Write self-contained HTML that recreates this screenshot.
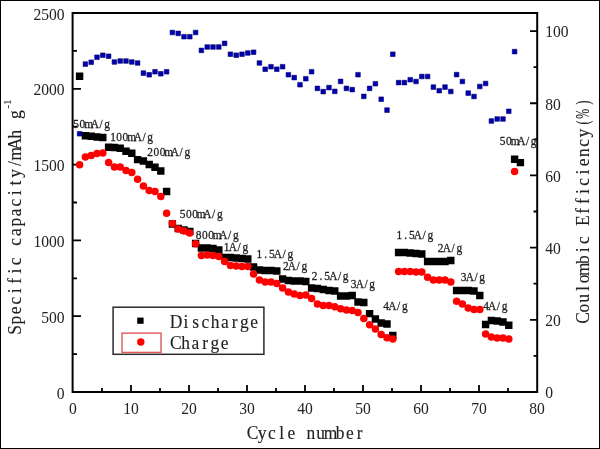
<!DOCTYPE html><html><head><meta charset="utf-8"><style>
html,body{margin:0;padding:0;background:#fff;}
svg{display:block;}
.h{font-family:"Liberation Serif","DejaVu Serif",serif;fill:#222;stroke:#222;stroke-width:0.12px;}
.lb .h{stroke-width:0.28px;}
.n{font-family:"Liberation Serif","DejaVu Serif",serif;fill:#222;}
</style></head><body>
<svg width="600" height="449" viewBox="0 0 600 449">
<rect x="0" y="0" width="600" height="449" fill="#fff"/>
<rect x="0.5" y="0.5" width="599" height="448" fill="none" stroke="#000" stroke-width="1"/>
<path d="M102 392V388M131 392V385M160 392V388M189 392V385M218 392V388M247 392V385M276 392V388M305 392V385M334 392V388M363 392V385M392 392V388M421 392V385M450 392V388M479 392V385M508 392V388M73 354.1H77M73 316.2H81M73 278.3H77M73 240.4H81M73 202.5H77M73 164.6H81M73 126.7H77M73 88.8H81M73 50.9H77M537 355.9H533.5M537 319.81H530M537 283.71H533.5M537 247.62H530M537 211.52H533.5M537 175.43H530M537 139.33H533.5M537 103.24H530M537 67.14H533.5M537 31.05H530" stroke="#000" stroke-width="1.8" fill="none"/>
<rect x="72.6" y="13" width="464.6" height="379" fill="none" stroke="#000" stroke-width="2"/>
<g>
<text class="n" transform="translate(64.6 398.6) scale(1 1.13)" text-anchor="end" font-size="15.6">0</text>
<text class="n" transform="translate(64.6 322.8) scale(1 1.13)" text-anchor="end" font-size="15.6">500</text>
<text class="n" transform="translate(64.6 247) scale(1 1.13)" text-anchor="end" font-size="15.6">1000</text>
<text class="n" transform="translate(64.6 171.2) scale(1 1.13)" text-anchor="end" font-size="15.6">1500</text>
<text class="n" transform="translate(64.6 95.4) scale(1 1.13)" text-anchor="end" font-size="15.6">2000</text>
<text class="n" transform="translate(64.6 19.6) scale(1 1.13)" text-anchor="end" font-size="15.6">2500</text>
<text class="n" transform="translate(545.2 398.4) scale(1 1.13)" text-anchor="start" font-size="15.6">0</text>
<text class="n" transform="translate(545.2 326.21) scale(1 1.13)" text-anchor="start" font-size="15.6">20</text>
<text class="n" transform="translate(545.2 254.02) scale(1 1.13)" text-anchor="start" font-size="15.6">40</text>
<text class="n" transform="translate(545.2 181.83) scale(1 1.13)" text-anchor="start" font-size="15.6">60</text>
<text class="n" transform="translate(545.2 109.64) scale(1 1.13)" text-anchor="start" font-size="15.6">80</text>
<text class="n" transform="translate(545.2 37.45) scale(1 1.13)" text-anchor="start" font-size="15.6">100</text>
<text class="n" transform="translate(73 413.9) scale(1 1.13)" text-anchor="middle" font-size="15.6">0</text>
<text class="n" transform="translate(131 413.9) scale(1 1.13)" text-anchor="middle" font-size="15.6">10</text>
<text class="n" transform="translate(189 413.9) scale(1 1.13)" text-anchor="middle" font-size="15.6">20</text>
<text class="n" transform="translate(247 413.9) scale(1 1.13)" text-anchor="middle" font-size="15.6">30</text>
<text class="n" transform="translate(305 413.9) scale(1 1.13)" text-anchor="middle" font-size="15.6">40</text>
<text class="n" transform="translate(363 413.9) scale(1 1.13)" text-anchor="middle" font-size="15.6">50</text>
<text class="n" transform="translate(421 413.9) scale(1 1.13)" text-anchor="middle" font-size="15.6">60</text>
<text class="n" transform="translate(479 413.9) scale(1 1.13)" text-anchor="middle" font-size="15.6">70</text>
<text class="n" transform="translate(537 413.9) scale(1 1.13)" text-anchor="middle" font-size="15.6">80</text>
</g>
<path d="M77.3 131.5h4.6v4.6h-4.6zM83.1 61.8h4.6v4.6h-4.6zM88.9 59.95h4.6v4.6h-4.6zM94.7 54.95h4.6v4.6h-4.6zM100.5 52.95h4.6v4.6h-4.6zM106.3 53.9h4.6v4.6h-4.6zM112.1 59.7h4.6v4.6h-4.6zM117.9 58.7h4.6v4.6h-4.6zM123.7 58.7h4.6v4.6h-4.6zM129.5 59.7h4.6v4.6h-4.6zM135.3 60.7h4.6v4.6h-4.6zM141.1 70.8h4.6v4.6h-4.6zM146.9 72.5h4.6v4.6h-4.6zM152.7 69.5h4.6v4.6h-4.6zM158.5 71.5h4.6v4.6h-4.6zM164.3 69.5h4.6v4.6h-4.6zM170.1 30.2h4.6v4.6h-4.6zM175.9 31.1h4.6v4.6h-4.6zM181.7 34.4h4.6v4.6h-4.6zM187.5 34.4h4.6v4.6h-4.6zM193.3 30.2h4.6v4.6h-4.6zM199.1 48.1h4.6v4.6h-4.6zM204.9 44.7h4.6v4.6h-4.6zM210.7 44.7h4.6v4.6h-4.6zM216.5 44.7h4.6v4.6h-4.6zM222.3 41.1h4.6v4.6h-4.6zM228.1 51.9h4.6v4.6h-4.6zM233.9 52.9h4.6v4.6h-4.6zM239.7 51.9h4.6v4.6h-4.6zM245.5 50.7h4.6v4.6h-4.6zM251.3 49.9h4.6v4.6h-4.6zM257.1 60.7h4.6v4.6h-4.6zM262.9 66.9h4.6v4.6h-4.6zM268.7 64.4h4.6v4.6h-4.6zM274.5 66.9h4.6v4.6h-4.6zM280.3 64.4h4.6v4.6h-4.6zM286.1 72.4h4.6v4.6h-4.6zM291.9 75.3h4.6v4.6h-4.6zM297.7 82.4h4.6v4.6h-4.6zM303.5 76.4h4.6v4.6h-4.6zM309.3 69.4h4.6v4.6h-4.6zM315.1 86.1h4.6v4.6h-4.6zM320.9 89.3h4.6v4.6h-4.6zM326.7 85.3h4.6v4.6h-4.6zM332.5 89.1h4.6v4.6h-4.6zM338.3 79.1h4.6v4.6h-4.6zM344.1 86.1h4.6v4.6h-4.6zM349.9 87.3h4.6v4.6h-4.6zM355.7 72.4h4.6v4.6h-4.6zM361.5 94.1h4.6v4.6h-4.6zM367.3 86.1h4.6v4.6h-4.6zM373.1 81.4h4.6v4.6h-4.6zM378.9 96.9h4.6v4.6h-4.6zM384.7 107.8h4.6v4.6h-4.6zM390.5 51.9h4.6v4.6h-4.6zM396.3 80.3h4.6v4.6h-4.6zM402.1 80.3h4.6v4.6h-4.6zM407.9 77.4h4.6v4.6h-4.6zM413.7 79.2h4.6v4.6h-4.6zM419.5 74.2h4.6v4.6h-4.6zM425.3 74.2h4.6v4.6h-4.6zM431.1 84.8h4.6v4.6h-4.6zM436.9 88.4h4.6v4.6h-4.6zM442.7 84.8h4.6v4.6h-4.6zM448.5 89.2h4.6v4.6h-4.6zM454.3 72.3h4.6v4.6h-4.6zM460.1 79.2h4.6v4.6h-4.6zM465.9 90.8h4.6v4.6h-4.6zM471.7 94.2h4.6v4.6h-4.6zM477.5 84.2h4.6v4.6h-4.6zM483.3 81.2h4.6v4.6h-4.6zM489.1 118.7h4.6v4.6h-4.6zM494.9 116.7h4.6v4.6h-4.6zM500.7 116.7h4.6v4.6h-4.6zM506.5 109h4.6v4.6h-4.6zM512.3 49.3h4.6v4.6h-4.6z" fill="#0000b0" stroke="#000070" stroke-width="0.6"/>
<path d="M75.9 72.6h7.4v7.4h-7.4zM81.7 132h7.4v7.4h-7.4zM87.5 132.6h7.4v7.4h-7.4zM93.3 133.3h7.4v7.4h-7.4zM99.1 133.8h7.4v7.4h-7.4zM104.9 143.6h7.4v7.4h-7.4zM110.7 143.8h7.4v7.4h-7.4zM116.5 144.6h7.4v7.4h-7.4zM122.3 147.6h7.4v7.4h-7.4zM128.1 149.6h7.4v7.4h-7.4zM133.9 155.9h7.4v7.4h-7.4zM139.7 157.3h7.4v7.4h-7.4zM145.5 160.8h7.4v7.4h-7.4zM151.3 163.6h7.4v7.4h-7.4zM157.1 167.3h7.4v7.4h-7.4zM162.9 187.8h7.4v7.4h-7.4zM168.7 220.3h7.4v7.4h-7.4zM174.5 224.8h7.4v7.4h-7.4zM180.3 226.3h7.4v7.4h-7.4zM186.1 227.8h7.4v7.4h-7.4zM191.9 239.8h7.4v7.4h-7.4zM197.7 244.3h7.4v7.4h-7.4zM203.5 244.3h7.4v7.4h-7.4zM209.3 244.8h7.4v7.4h-7.4zM215.1 246.3h7.4v7.4h-7.4zM220.9 253.8h7.4v7.4h-7.4zM226.7 253.8h7.4v7.4h-7.4zM232.5 254.3h7.4v7.4h-7.4zM238.3 254.8h7.4v7.4h-7.4zM244.1 255.3h7.4v7.4h-7.4zM249.9 263.3h7.4v7.4h-7.4zM255.7 266.3h7.4v7.4h-7.4zM261.5 266.8h7.4v7.4h-7.4zM267.3 266.8h7.4v7.4h-7.4zM273.1 267.3h7.4v7.4h-7.4zM278.9 275.3h7.4v7.4h-7.4zM284.7 276.8h7.4v7.4h-7.4zM290.5 277.3h7.4v7.4h-7.4zM296.3 277.3h7.4v7.4h-7.4zM302.1 277.8h7.4v7.4h-7.4zM307.9 284.3h7.4v7.4h-7.4zM313.7 284.8h7.4v7.4h-7.4zM319.5 285.8h7.4v7.4h-7.4zM325.3 286.8h7.4v7.4h-7.4zM331.1 287.3h7.4v7.4h-7.4zM336.9 292.3h7.4v7.4h-7.4zM342.7 292.3h7.4v7.4h-7.4zM348.5 291.8h7.4v7.4h-7.4zM354.3 298.3h7.4v7.4h-7.4zM360.1 298.8h7.4v7.4h-7.4zM365.9 309.9h7.4v7.4h-7.4zM371.7 315.3h7.4v7.4h-7.4zM377.5 319.3h7.4v7.4h-7.4zM383.3 320.3h7.4v7.4h-7.4zM389.1 331.8h7.4v7.4h-7.4zM394.9 248.8h7.4v7.4h-7.4zM400.7 248.8h7.4v7.4h-7.4zM406.5 249.3h7.4v7.4h-7.4zM412.3 249.8h7.4v7.4h-7.4zM418.1 250.3h7.4v7.4h-7.4zM423.9 257.8h7.4v7.4h-7.4zM429.7 257.8h7.4v7.4h-7.4zM435.5 257.8h7.4v7.4h-7.4zM441.3 257.8h7.4v7.4h-7.4zM447.1 256.8h7.4v7.4h-7.4zM452.9 286.8h7.4v7.4h-7.4zM458.7 286.8h7.4v7.4h-7.4zM464.5 286.8h7.4v7.4h-7.4zM470.3 287.3h7.4v7.4h-7.4zM476.1 291.8h7.4v7.4h-7.4zM481.9 320.8h7.4v7.4h-7.4zM487.7 316.8h7.4v7.4h-7.4zM493.5 317.3h7.4v7.4h-7.4zM499.3 318.3h7.4v7.4h-7.4zM505.1 321.6h7.4v7.4h-7.4zM510.9 155.5h7.4v7.4h-7.4zM516.7 158.9h7.4v7.4h-7.4z" fill="#000"/>
<g fill="#ff0000">
<circle cx="79.6" cy="164.7" r="3.75"/>
<circle cx="85.4" cy="157" r="3.75"/>
<circle cx="91.2" cy="155.5" r="3.75"/>
<circle cx="97" cy="153.5" r="3.75"/>
<circle cx="102.8" cy="153" r="3.75"/>
<circle cx="108.6" cy="162.5" r="3.75"/>
<circle cx="114.4" cy="167" r="3.75"/>
<circle cx="120.2" cy="167" r="3.75"/>
<circle cx="126" cy="170.5" r="3.75"/>
<circle cx="131.8" cy="172.6" r="3.75"/>
<circle cx="137.6" cy="179.3" r="3.75"/>
<circle cx="143.4" cy="186" r="3.75"/>
<circle cx="149.2" cy="190.5" r="3.75"/>
<circle cx="155" cy="191.6" r="3.75"/>
<circle cx="160.8" cy="196.6" r="3.75"/>
<circle cx="166.6" cy="213.3" r="3.75"/>
<circle cx="172.4" cy="223.5" r="3.75"/>
<circle cx="178.2" cy="229" r="3.75"/>
<circle cx="184" cy="231" r="3.75"/>
<circle cx="189.8" cy="233" r="3.75"/>
<circle cx="195.6" cy="243.7" r="3.75"/>
<circle cx="201.4" cy="255.5" r="3.75"/>
<circle cx="207.2" cy="255" r="3.75"/>
<circle cx="213" cy="255.5" r="3.75"/>
<circle cx="218.8" cy="256.5" r="3.75"/>
<circle cx="224.6" cy="261.5" r="3.75"/>
<circle cx="230.4" cy="265.5" r="3.75"/>
<circle cx="236.2" cy="266" r="3.75"/>
<circle cx="242" cy="266.5" r="3.75"/>
<circle cx="247.8" cy="266.5" r="3.75"/>
<circle cx="253.6" cy="274" r="3.75"/>
<circle cx="259.4" cy="280" r="3.75"/>
<circle cx="265.2" cy="282" r="3.75"/>
<circle cx="271" cy="282" r="3.75"/>
<circle cx="276.8" cy="283.5" r="3.75"/>
<circle cx="282.6" cy="288" r="3.75"/>
<circle cx="288.4" cy="292" r="3.75"/>
<circle cx="294.2" cy="294" r="3.75"/>
<circle cx="300" cy="295.5" r="3.75"/>
<circle cx="305.8" cy="295" r="3.75"/>
<circle cx="311.6" cy="298.5" r="3.75"/>
<circle cx="317.4" cy="304" r="3.75"/>
<circle cx="323.2" cy="305.5" r="3.75"/>
<circle cx="329" cy="305.5" r="3.75"/>
<circle cx="334.8" cy="306.8" r="3.75"/>
<circle cx="340.6" cy="308.8" r="3.75"/>
<circle cx="346.4" cy="310" r="3.75"/>
<circle cx="352.2" cy="310.5" r="3.75"/>
<circle cx="358" cy="312.5" r="3.75"/>
<circle cx="363.8" cy="318.4" r="3.75"/>
<circle cx="369.6" cy="324.7" r="3.75"/>
<circle cx="375.4" cy="329" r="3.75"/>
<circle cx="381.2" cy="334.4" r="3.75"/>
<circle cx="387" cy="337.8" r="3.75"/>
<circle cx="392.8" cy="339" r="3.75"/>
<circle cx="398.6" cy="271.5" r="3.75"/>
<circle cx="404.4" cy="271.5" r="3.75"/>
<circle cx="410.2" cy="271.5" r="3.75"/>
<circle cx="416" cy="272" r="3.75"/>
<circle cx="421.8" cy="272" r="3.75"/>
<circle cx="427.6" cy="277.3" r="3.75"/>
<circle cx="433.4" cy="280" r="3.75"/>
<circle cx="439.2" cy="280" r="3.75"/>
<circle cx="445" cy="280" r="3.75"/>
<circle cx="450.8" cy="282" r="3.75"/>
<circle cx="456.6" cy="301.3" r="3.75"/>
<circle cx="462.4" cy="304" r="3.75"/>
<circle cx="468.2" cy="308" r="3.75"/>
<circle cx="474" cy="309.6" r="3.75"/>
<circle cx="479.8" cy="309.6" r="3.75"/>
<circle cx="485.6" cy="334" r="3.75"/>
<circle cx="491.4" cy="337" r="3.75"/>
<circle cx="497.2" cy="338" r="3.75"/>
<circle cx="503" cy="338" r="3.75"/>
<circle cx="508.8" cy="339" r="3.75"/>
<circle cx="514.6" cy="171.4" r="3.75"/>
</g>
<g class="lb" transform="translate(0 127.5)"><g transform="scale(0.92 1)"><text class="h" x="82.83 89.57 96.3 103.04 109.78 116.52" y="0" font-size="12.4" text-anchor="middle">50mA/g</text></g></g>
<g class="lb" transform="translate(0 141.3)"><g transform="scale(0.92 1)"><text class="h" x="122.83 129.57 136.3 143.04 149.78 156.52 163.26" y="0" font-size="12.4" text-anchor="middle">100mA/g</text></g></g>
<g class="lb" transform="translate(0 156)"><g transform="scale(0.92 1)"><text class="h" x="163.26 170 176.74 183.48 190.22 196.96 203.7" y="0" font-size="12.4" text-anchor="middle">200mA/g</text></g></g>
<g class="lb" transform="translate(0 218)"><g transform="scale(0.92 1)"><text class="h" x="198.59 205.33 212.07 218.8 225.54 232.28 239.02" y="0" font-size="12.4" text-anchor="middle">500mA/g</text></g></g>
<g class="lb" transform="translate(0 239.4)"><g transform="scale(0.92 1)"><text class="h" x="215.98 222.72 229.46 236.2 242.93 249.67 256.41" y="0" font-size="12.4" text-anchor="middle">800mA/g</text></g></g>
<g class="lb" transform="translate(0 251.4)"><g transform="scale(0.92 1)"><text class="h" x="246.41 253.15 259.89 266.63" y="0" font-size="12.4" text-anchor="middle">1A/g</text></g></g>
<g class="lb" transform="translate(0 257.6)"><g transform="scale(0.92 1)"><text class="h" x="281.96 288.7 295.43 302.17 308.91 315.65" y="0" font-size="12.4" text-anchor="middle">1.5A/g</text></g></g>
<g class="lb" transform="translate(0 270)"><g transform="scale(0.92 1)"><text class="h" x="310.65 317.39 324.13 330.87" y="0" font-size="12.4" text-anchor="middle">2A/g</text></g></g>
<g class="lb" transform="translate(0 280.3)"><g transform="scale(0.92 1)"><text class="h" x="342.07 348.8 355.54 362.28 369.02 375.76" y="0" font-size="12.4" text-anchor="middle">2.5A/g</text></g></g>
<g class="lb" transform="translate(0 288.2)"><g transform="scale(0.92 1)"><text class="h" x="384.35 391.09 397.83 404.57" y="0" font-size="12.4" text-anchor="middle">3A/g</text></g></g>
<g class="lb" transform="translate(0 310)"><g transform="scale(0.92 1)"><text class="h" x="419.78 426.52 433.26 440" y="0" font-size="12.4" text-anchor="middle">4A/g</text></g></g>
<g class="lb" transform="translate(0 238.8)"><g transform="scale(0.92 1)"><text class="h" x="434.13 440.87 447.61 454.35 461.09 467.83" y="0" font-size="12.4" text-anchor="middle">1.5A/g</text></g></g>
<g class="lb" transform="translate(0 252)"><g transform="scale(0.92 1)"><text class="h" x="479.02 485.76 492.5 499.24" y="0" font-size="12.4" text-anchor="middle">2A/g</text></g></g>
<g class="lb" transform="translate(0 280.7)"><g transform="scale(0.92 1)"><text class="h" x="503.91 510.65 517.39 524.13" y="0" font-size="12.4" text-anchor="middle">3A/g</text></g></g>
<g class="lb" transform="translate(0 310.3)"><g transform="scale(0.92 1)"><text class="h" x="528.26 535 541.74 548.48" y="0" font-size="12.4" text-anchor="middle">4A/g</text></g></g>
<g class="lb" transform="translate(0 145)"><g transform="scale(0.92 1)"><text class="h" x="546.41 553.15 559.89 566.63 573.37 580.11" y="0" font-size="12.4" text-anchor="middle">50mA/g</text></g></g>
<g transform="translate(0 439)"><g transform="scale(0.92 1)"><text class="h" x="274.43 285.03 295.62 306.22 316.82 327.42 338.02 348.61 359.21 369.81 380.41 391.01" y="0" font-size="19" text-anchor="middle">Cycle number</text></g></g>
<g transform="translate(21 334.8) rotate(-90)"><g transform="scale(0.92 1)"><text class="h" x="5.32 15.96 26.6 37.24 47.89 58.53 69.17 79.81 90.45 101.09 111.73 122.37 133.02 143.66 154.3 164.94 175.58 186.22 196.86 207.51 218.15 228.79 239.43" y="0" font-size="19" text-anchor="middle">Specific capacity/mAh g</text></g></g>
<text class="h" style="stroke-width:0.1px" transform="translate(10.5 108.6) rotate(-90)" font-size="11">-1</text>
<g transform="translate(588.5 322.7) rotate(-90)"><g transform="scale(0.92 1)"><text class="h" x="5.28 15.85 26.41 36.98 47.54 58.11 68.67 79.24 89.8 100.37 110.93 121.5 132.07 142.63 153.2 163.76 174.33 184.89 195.46 206.02" y="0" font-size="19" text-anchor="middle">Coulombic Efficiency</text></g><g transform="scale(0.62 1)"><text class="h" x="323 337.06 355" y="0" font-size="19" text-anchor="middle">(%)</text></g></g>
<rect x="113.1" y="307.2" width="150.8" height="47.1" fill="none" stroke="#2a2a2a" stroke-width="1.5"/>
<rect x="122" y="333.1" width="39" height="19.3" fill="none" stroke="#e25858" stroke-width="1.4"/>
<rect x="137.2" y="317.6" width="6.4" height="6.2" fill="#000"/>
<circle cx="140.8" cy="342" r="3.7" fill="#ff0000"/>
<g transform="translate(0 327.5)"><g transform="scale(0.92 1)"><text class="h" x="191.39 201.98 212.58 223.18 233.78 244.37 254.97 265.57 276.17" y="0" font-size="19" text-anchor="middle">Discharge</text></g></g>
<g transform="translate(0 349)"><g transform="scale(0.92 1)"><text class="h" x="191.17 201.77 212.36 222.96 233.56 244.16" y="0" font-size="19" text-anchor="middle">Charge</text></g></g>
</svg></body></html>
